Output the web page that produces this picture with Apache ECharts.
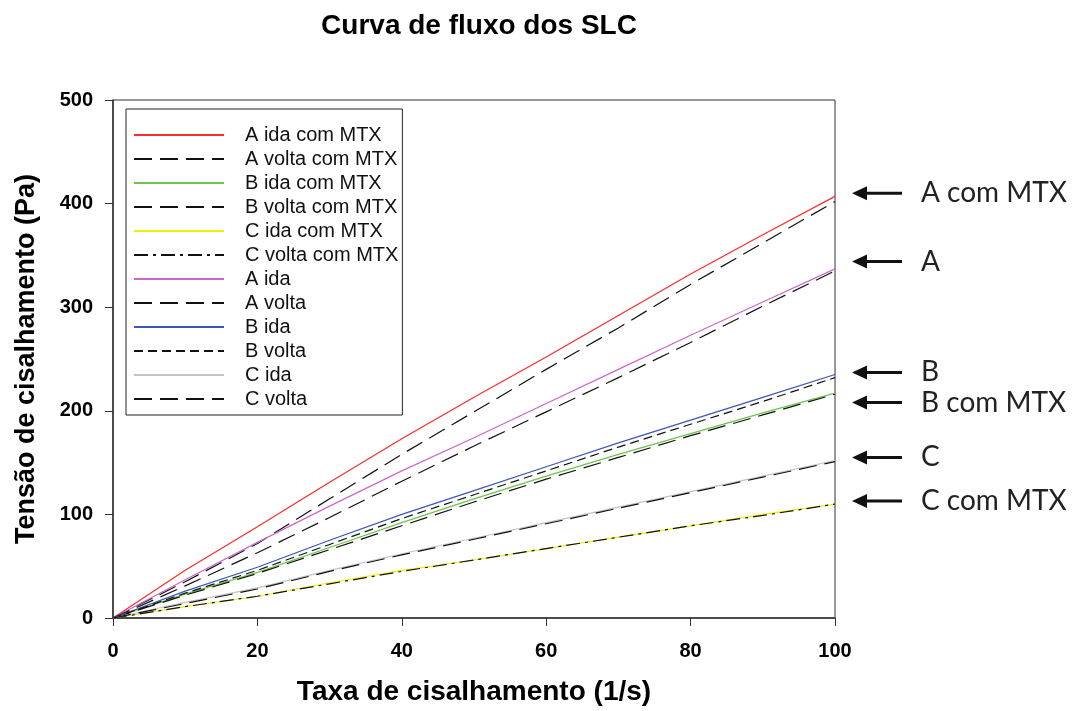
<!DOCTYPE html>
<html>
<head>
<meta charset="utf-8">
<script src="https://cdn.jsdelivr.net/npm/echarts@6/dist/echarts.min.js"></script>
<style>
  html, body { margin: 0; padding: 0; background: #fff; }
  #main { width: 1077px; height: 711px; }
</style>
</head>
<body>
<div id="main"></div>
<script>
  // taxa de cisalhamento (1/s)
  var taxa = [0, 10, 20, 30, 40, 50, 60, 70, 80, 90, 100];

  // tensão de cisalhamento (Pa)
  var aIdaMtx   = [0, 46, 88, 131, 173, 213, 252, 292, 332, 370, 407];
  var aVoltaMtx = [0, 35, 72, 115, 158, 199, 240, 280, 322, 362, 402];
  var bIdaMtx   = [0, 23, 44, 68, 92, 115, 137, 158, 178, 198, 217];
  var bVoltaMtx = [0, 22, 43, 66, 89, 112, 134, 155, 176, 196, 216];
  var cIdaMtx   = [0, 11, 21, 34, 46, 56, 67, 78, 89, 100, 110];
  var cVoltaMtx = [0, 11, 21, 33, 45, 56, 67, 78, 89, 99, 110];
  var aIda      = [0, 37, 73, 108, 142, 174, 207, 240, 273, 305, 337];
  var aVolta    = [0, 31, 63, 97, 132, 166, 199, 232, 266, 301, 335];
  var bIda      = [0, 26, 49, 75, 100, 123, 146, 169, 191, 213, 235];
  var bVolta    = [0, 24, 46, 71, 96, 119, 142, 165, 187, 209, 232];
  var cIda      = [0, 15, 29, 46, 62, 77, 92, 107, 122, 137, 152];
  var cVolta    = [0, 14, 28, 45, 61, 76, 91, 106, 121, 136, 151];

  // setas à direita
  var rotulos = ['A com MTX', 'A', 'B', 'B com MTX', 'C', 'C com MTX'];
  var rotulosY = [410, 344, 237, 208, 155, 113];

  function pares(ys) {
    return taxa.map(function (x, i) { return [x, ys[i]]; });
  }

  function serie(nome, dados, cor, tracejado) {
    return {
      name: nome,
      type: 'line',
      data: pares(dados),
      symbol: 'none',
      lineStyle: { color: cor, width: 1.2, type: tracejado || 'solid' },
      itemStyle: { color: cor }
    };
  }

  var chart = echarts.init(document.getElementById('main'));

  var fonte = 'Liberation Sans, Arial, sans-serif';

  var option = {
    animation: false,
    title: {
      text: 'Curva de fluxo dos SLC',
      left: 474,
      top: 7,
      textAlign: 'center',
      textStyle: { fontFamily: fonte, fontWeight: 'bold', fontSize: 28, color: '#000' }
    },
    grid: {
      left: 113, right: 242, top: 100, bottom: 90,
      show: true, borderColor: '#333', borderWidth: 1
    },
    legend: {
      orient: 'vertical',
      left: 126,
      top: 109,
      padding: [16, 4, 6, 7],
      borderColor: '#222',
      borderWidth: 1,
      itemWidth: 90,
      itemHeight: 12,
      itemGap: 4,
      itemStyle: { opacity: 0 },
      textStyle: { fontFamily: fonte, fontSize: 20, lineHeight: 20, color: '#111', padding: [0, 0, 0, 16] },
      data: ['A ida com MTX', 'A volta com MTX', 'B ida com MTX', 'B volta com MTX',
             'C ida com MTX', 'C volta com MTX', 'A ida', 'A volta', 'B ida',
             'B volta', 'C ida', 'C volta']
    },
    xAxis: {
      type: 'value',
      min: 0, max: 100, interval: 20,
      name: 'Taxa de cisalhamento (1/s)',
      nameLocation: 'middle',
      nameGap: 60,
      nameTextStyle: { fontFamily: fonte, fontWeight: 'bold', fontSize: 28, color: '#000' },
      axisLine: { lineStyle: { color: '#333', width: 1.5 } },
      axisTick: { inside: false, length: 8, lineStyle: { color: '#333' } },
      axisLabel: { fontFamily: fonte, fontWeight: 'bold', fontSize: 20, color: '#000', margin: 23 },
      splitLine: { show: false }
    },
    yAxis: {
      type: 'value',
      min: 0, max: 500, interval: 100,
      name: 'Tensão de cisalhamento (Pa)',
      nameLocation: 'middle',
      nameGap: 73,
      nameTextStyle: { fontFamily: fonte, fontWeight: 'bold', fontSize: 27, color: '#000' },
      axisLine: { show: true, lineStyle: { color: '#333', width: 1.5 } },
      axisTick: { show: true, inside: false, length: 8, lineStyle: { color: '#333' } },
      axisLabel: { fontFamily: fonte, fontWeight: 'bold', fontSize: 20, color: '#000', margin: 20 },
      splitLine: { show: false }
    },
    series: [
      serie('A ida com MTX', aIdaMtx, '#ff2a2a'),
      serie('A volta com MTX', aVoltaMtx, '#111', [18, 8]),
      serie('B ida com MTX', bIdaMtx, '#6cc44a'),
      serie('B volta com MTX', bVoltaMtx, '#111', [18, 8]),
      serie('C ida com MTX', cIdaMtx, '#f2f000'),
      serie('C volta com MTX', cVoltaMtx, '#111', [14, 5, 3, 5]),
      serie('A ida', aIda, '#cc66cc'),
      serie('A volta', aVolta, '#111', [18, 8]),
      serie('B ida', bIda, '#3a58b8'),
      serie('B volta', bVolta, '#111', [9, 5]),
      serie('C ida', cIda, '#c4c4c4'),
      serie('C volta', cVolta, '#111', [18, 8])
    ]
  };

  chart.setOption(option);

  // setas e rótulos ao lado direito do gráfico
  var graficos = [];
  rotulos.forEach(function (txt, i) {
    var p = chart.convertToPixel({ gridIndex: 0 }, [100, rotulosY[i]]);
    var x0 = p[0] + 17, y = p[1];
    graficos.push({
      type: 'line',
      shape: { x1: x0 + 12, y1: y, x2: x0 + 50, y2: y },
      style: { stroke: '#111', lineWidth: 3 }
    });
    graficos.push({
      type: 'polygon',
      shape: { points: [[x0, y], [x0 + 15, y - 7], [x0 + 15, y + 7]] },
      style: { fill: '#111' }
    });
    graficos.push({
      type: 'text',
      x: x0 + 69,
      y: y,
      style: {
        text: txt,
        fontFamily: 'Lato, Open Sans, sans-serif',
        fontSize: 28,
        fill: '#222',
        verticalAlign: 'middle'
      }
    });
  });
  chart.setOption({ graphic: graficos });
</script>
</body>
</html>
